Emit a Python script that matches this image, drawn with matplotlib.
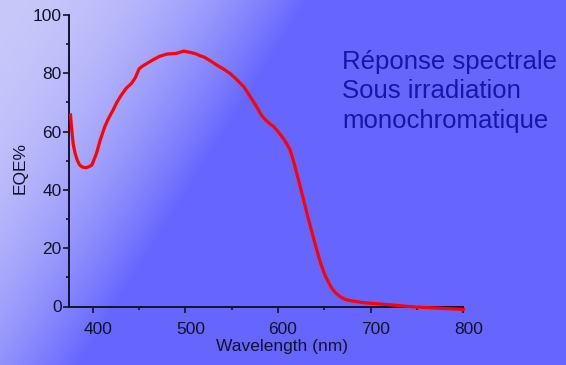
import numpy as np
import matplotlib.pyplot as plt
from matplotlib.ticker import MultipleLocator
from matplotlib.transforms import ScaledTranslation

plt.rcParams['font.family'] = ['Liberation Sans', 'DejaVu Sans']

# EQE spectrum
wavelength = [376, 377.5, 379, 381, 383.5, 386, 389, 393, 396, 399, 401, 404,
              408, 413, 417, 422, 426, 431, 436, 442, 446, 450, 453, 459, 465,
              472, 480, 490, 498, 505, 512, 516, 520, 527, 534, 541, 548, 555,
              563, 568, 572, 577, 582, 586, 590, 595, 600, 603, 606, 610, 613,
              618, 624, 630, 635, 640, 646, 651, 657, 662, 667, 672, 678, 690,
              700, 712, 725, 737, 750, 775, 800]
eqe = [65.7, 60, 55.5, 52.5, 50, 48.5, 47.8, 47.6, 48, 48.5, 50, 52.5,
       57, 61.7, 64.5, 67.4, 70, 72.6, 74.8, 76.6, 78.5, 81.5, 82.3, 83.5, 84.6,
       85.8, 86.6, 86.8, 87.6, 87.2, 86.6, 86, 85.6, 84.3, 82.8, 81.5, 80, 78,
       75.4, 73, 71, 68.5, 65.7, 64.2, 63, 61.8, 60, 58.8, 57.5, 55.5, 53.7,
       48.5, 41.1, 33.5, 27.4, 21.5, 14.8, 10.5, 6.8, 4.7, 3.4, 2.5, 2, 1.4,
       1.1, 0.8, 0.5, 0.1, -0.2, -0.6, -1]
title_lines = ['Réponse spectrale', 'Sous irradiation', 'monochromatique']

W, H = 566, 365
fig = plt.figure(figsize=(W / 100, H / 100), dpi=100)

# diagonal gradient background
bg = fig.add_axes([0, 0, 1, 1], zorder=-10)
yy, xx = np.mgrid[0:H, 0:W]
t = np.clip((0.846 * xx + 0.533 * yy) / 260.0, 0, 1) ** 2
light = np.array([200, 200, 250]) / 255
blue = np.array([102, 102, 255]) / 255
img = light[None, None, :] + (blue - light)[None, None, :] * t[..., None]
bg.imshow(img, aspect='auto', extent=[0, W, H, 0])
bg.axis('off')

ink = '#12122e'
ax = fig.add_axes([69.3 / W, 1 - 306.5 / H, 394 / W, 291.5 / H])
ax.patch.set_alpha(0)
ax.plot(wavelength, eqe, color='#ff0000', lw=2.3, clip_on=False, zorder=5)

ax.set_xlim(374.7, 800)
ax.set_ylim(0, 100)
ax.xaxis.set_major_locator(MultipleLocator(100))
ax.xaxis.set_minor_locator(MultipleLocator(50))
ax.yaxis.set_major_locator(MultipleLocator(20))
ax.yaxis.set_minor_locator(MultipleLocator(10))
for s in ['top', 'right']:
    ax.spines[s].set_visible(False)
for s in ['left', 'bottom']:
    ax.spines[s].set_color(ink)
    ax.spines[s].set_linewidth(1.4)
ax.tick_params(which='major', length=4.5, width=1.2, color=ink,
               labelcolor=ink, labelsize=12.5)
ax.tick_params(which='minor', length=2, width=1.2, color=ink)
ax.tick_params(axis='x', pad=7)
ax.tick_params(axis='y', pad=1)
for lbl in ax.get_xticklabels():
    lbl.set_transform(lbl.get_transform() + ScaledTranslation(5 / 100, 0, fig.dpi_scale_trans))

ax.set_xlabel('Wavelength (nm)', fontsize=12.5, color=ink)
ax.xaxis.set_label_coords(282.5 / W, 1 - 347 / H, transform=fig.transFigure)
ax.set_ylabel('EQE%', fontsize=12.5, color=ink)
ax.yaxis.set_label_coords(19.7 / W, 1 - 168.5 / H, transform=fig.transFigure)
ax.xaxis.label.set_va('center')
ax.yaxis.label.set_va('center')

for i, line in enumerate(title_lines):
    fig.text(342 / W, 1 - (68.5 + 30 * i) / H, line, fontsize=18.5,
             color='#1616a8', ha='left', va='baseline')

fig.savefig('out.png', dpi=100)
